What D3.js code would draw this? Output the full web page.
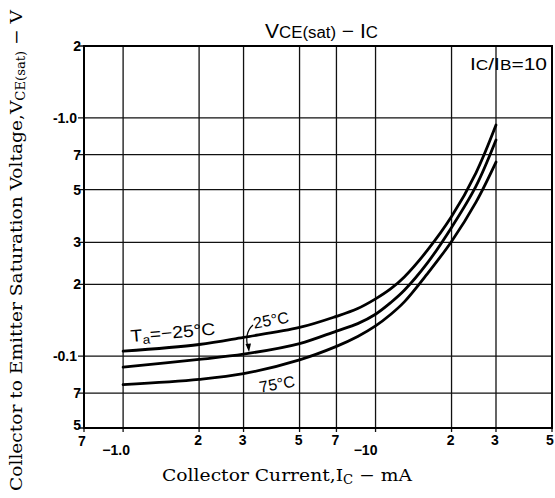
<!DOCTYPE html>
<html><head><meta charset="utf-8">
<script src="https://cdn.jsdelivr.net/npm/d3@7"></script>
<style>
html,body{margin:0;padding:0;background:#fff;}
svg{display:block;}
</style></head>
<body>
<svg id="chart" width="555" height="498"></svg>
<script>
// ---- data ----
const IC = [1, 2, 3, 5, 7, 8.5, 10, 11.5, 13, 16, 20, 25, 30];        // mA (magnitude)
const V_m25 = [0.105, 0.112, 0.120, 0.132, 0.147, 0.1585, 0.174, 0.192, 0.215, 0.277, 0.385, 0.588, 0.932];
const V_25  = [0.090, 0.097, 0.102, 0.113, 0.1275, 0.137, 0.150, 0.168, 0.189, 0.245, 0.347, 0.517, 0.807];
const V_75  = [0.076, 0.080, 0.0845, 0.0966, 0.110, 0.121, 0.134, 0.150, 0.169, 0.221, 0.303, 0.443, 0.652];
const xGrid = [0.7, 1, 2, 3, 5, 7, 10, 20, 30, 50];
const xTickLabels = ["7", "\u22121.0", "2", "3", "5", "7", "\u221210", "2", "3", "5"];
const yGrid = [0.05, 0.07, 0.1, 0.2, 0.3, 0.5, 0.7, 1, 2];
const yTickLabels = ["5", "7", "-0.1", "2", "3", "5", "7", "-1.0", "2"];

const svg = d3.select("#chart");
const L = 84, R = 552, T = 46, B = 428;
const x = d3.scaleLog().domain([0.7, 50]).range([L, R]);
const y = d3.scaleLog().domain([0.05, 2]).range([B, T]);
const SANS = "Liberation Sans, Arial, sans-serif";
const SERIF = "DejaVu Serif, Liberation Serif, serif";

// grid
const g = svg.append("g");
g.selectAll("line.vx").data(xGrid).enter().append("line")
  .attr("x1", d => x(d)).attr("x2", d => x(d))
  .attr("y1", T).attr("y2", B + 4)
  .attr("stroke", "#111").attr("stroke-width", 1.3);
g.selectAll("line.hy").data(yGrid).enter().append("line")
  .attr("x1", L - 6).attr("x2", R)
  .attr("y1", d => y(d)).attr("y2", d => y(d))
  .attr("stroke", "#111").attr("stroke-width", 1.3);
g.append("rect").attr("x", L).attr("y", T).attr("width", R - L).attr("height", B - T)
  .attr("fill", "none").attr("stroke", "#000").attr("stroke-width", 2);

// y tick labels
svg.append("g").selectAll("text").data(yGrid).enter().append("text")
  .attr("x", (d, i) => yTickLabels[i].length > 1 ? 77 : 81)
  .attr("y", (d, i) => y(d) - (i === 0 ? 3 : 0))
  .attr("dy", "0.36em")
  .attr("text-anchor", "end")
  .attr("font-family", SANS)
  .attr("font-weight", "bold").attr("font-size", 14)
  .text((d, i) => yTickLabels[i]);

// x tick labels
svg.append("g").selectAll("text").data(xGrid).enter().append("text")
  .attr("x", (d, i) => {
    const t = xTickLabels[i];
    if (i === 0) return x(d) - 2;
    if (t.startsWith("\u2212")) return x(d) - (t.length > 3 ? 7 : 10);
    if (i === xGrid.length - 1) return x(d) - 2;
    return x(d) - 1;
  })
  .attr("y", (d, i) => xTickLabels[i].startsWith("\u2212") ? 455 : (i === 0 ? 446 : 445))
  .attr("text-anchor", "middle")
  .attr("font-family", SANS)
  .attr("font-weight", "bold").attr("font-size", 14)
  .text((d, i) => xTickLabels[i]);

// curves
const line = d3.line().x(d => x(d[0])).y(d => y(d[1])).curve(d3.curveCatmullRom.alpha(0.5));
[V_m25, V_25, V_75].forEach(s => {
  svg.append("path").datum(IC.map((c, i) => [c, s[i]]))
    .attr("d", line).attr("fill", "none")
    .attr("stroke", "#000").attr("stroke-width", 2.8).attr("stroke-linecap", "round");
});

// title
const title = svg.append("text").attr("x", 265).attr("y", 38)
  .attr("font-family", SANS)
  .attr("textLength", 113).attr("lengthAdjust", "spacingAndGlyphs");
title.append("tspan").attr("font-size", 20).text("V");
title.append("tspan").attr("font-size", 16).text("CE(sat)");
title.append("tspan").attr("font-size", 20).text(" \u2212 I");
title.append("tspan").attr("font-size", 16).text("C");

// IC/IB=10
const cond = svg.append("text").attr("x", 470).attr("y", 70)
  .attr("font-family", SANS)
  .attr("textLength", 77).attr("lengthAdjust", "spacingAndGlyphs");
cond.append("tspan").attr("font-size", 17).text("I");
cond.append("tspan").attr("font-size", 14).text("C");
cond.append("tspan").attr("font-size", 17).text("/I");
cond.append("tspan").attr("font-size", 14).text("B");
cond.append("tspan").attr("font-size", 17).text("=10");

// curve labels
const ta = svg.append("text").attr("transform", "translate(131,342) rotate(-5)")
  .attr("font-family", SANS)
  .attr("textLength", 85).attr("lengthAdjust", "spacingAndGlyphs");
ta.append("tspan").attr("font-size", 17).text("T");
ta.append("tspan").attr("font-size", 12).attr("dy", 3).text("a");
ta.append("tspan").attr("font-size", 17).attr("dy", -3).text("=\u221225\u00B0C");

svg.append("text").attr("transform", "translate(271,320) rotate(-10)")
  .attr("text-anchor", "middle").attr("dy", "0.35em")
  .attr("font-family", SANS).attr("font-size", 16)
  .text("25\u00B0C");
svg.append("text").attr("transform", "translate(277,384) rotate(-10)")
  .attr("text-anchor", "middle").attr("dy", "0.35em")
  .attr("font-family", SANS).attr("font-size", 16)
  .text("75\u00B0C");

// leader with arrow
svg.append("path").attr("d", "M253,325 Q244,333 248,348")
  .attr("fill", "none").attr("stroke", "#000").attr("stroke-width", 1.2);
svg.append("path").attr("d", "M245.5,344 L249,352 L251,343.5 Z").attr("fill", "#000");

// axis titles
const xt = svg.append("text").attr("x", 162).attr("y", 481)
  .attr("font-family", SERIF)
  .attr("textLength", 250).attr("lengthAdjust", "spacingAndGlyphs");
xt.append("tspan").attr("font-size", 17).text("Collector Current,I");
xt.append("tspan").attr("font-size", 12).attr("dy", 3).text("C");
xt.append("tspan").attr("font-size", 17).attr("dy", -3).text(" \u2212 mA");

const yt = svg.append("text").attr("transform", "translate(22,491) rotate(-90)")
  .attr("font-family", SERIF)
  .attr("textLength", 481).attr("lengthAdjust", "spacingAndGlyphs");
yt.append("tspan").attr("font-size", 17).text("Collector to Emitter Saturation Voltage,V");
yt.append("tspan").attr("font-size", 12).attr("dy", 3).text("CE(sat)");
yt.append("tspan").attr("font-size", 17).attr("dy", -3).text(" \u2212 V");
</script>
</body></html>
